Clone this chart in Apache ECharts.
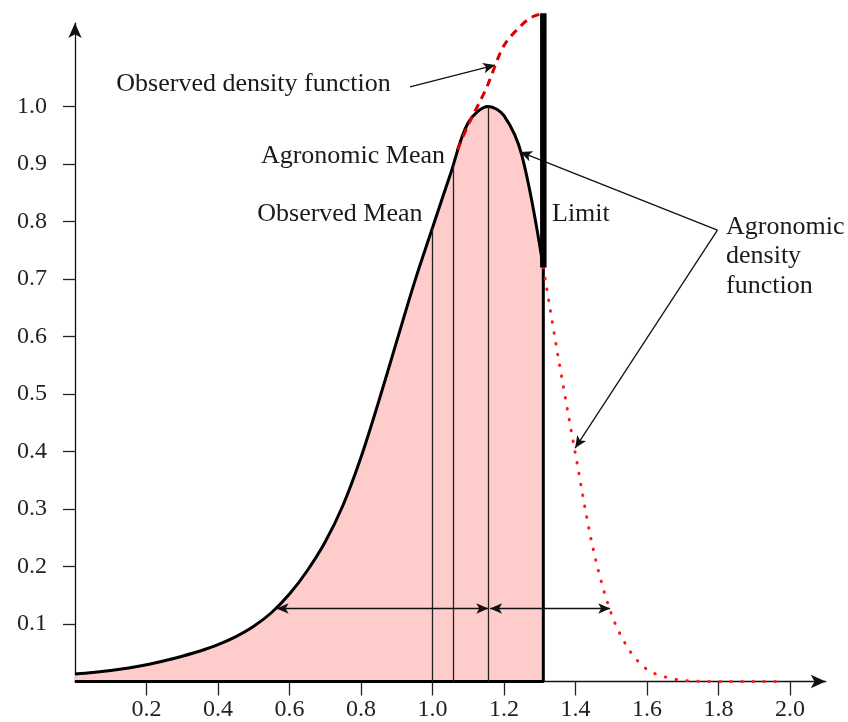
<!DOCTYPE html>
<html>
<head>
<meta charset="utf-8">
<script src="https://cdn.jsdelivr.net/npm/echarts@6/dist/echarts.min.js"></script>
<style>
html,body{margin:0;padding:0;background:#fff;}
#c{width:848px;height:722px;}
</style>
</head>
<body>
<div id="c"></div>
<script>
// ---- data ----
const agroX = [0, 0.05, 0.1, 0.15, 0.2, 0.25, 0.3, 0.35, 0.4, 0.45, 0.5, 0.55, 0.6, 0.65, 0.7, 0.75, 0.8, 0.85, 0.9, 0.95, 1.0, 1.05, 1.1, 1.156, 1.2, 1.25, 1.31];
const agroY = [0.013, 0.0155, 0.019, 0.0235, 0.029, 0.036, 0.044, 0.053, 0.064, 0.078, 0.096, 0.120, 0.152, 0.193, 0.243, 0.307, 0.39, 0.488, 0.592, 0.695, 0.789, 0.882, 0.972, 1.0, 0.984, 0.915, 0.72];
const tailX = [1.31, 1.35, 1.40, 1.45, 1.50, 1.55, 1.60, 1.65, 1.70, 1.80, 1.90, 1.97];
const tailY = [0.72, 0.57, 0.395, 0.229, 0.118, 0.055, 0.021, 0.008, 0.002, 0, 0, 0];
const obsX = [1.07, 1.10, 1.15, 1.20, 1.25, 1.28, 1.31];
const obsY = [0.925, 0.968, 1.031, 1.106, 1.142, 1.156, 1.162];
const limitX = 1.31;
const limitLow = 0.72;
const limitHigh = 1.162;
const meanX = [1.0, 1.058, 1.156];
const meanTop = [0.789, 0.898, 1.0];
const spreadY = 0.127;
const spreadA = [0.564, 1.156];
const spreadB = [1.161, 1.497];
const xTicks = [0.2, 0.4, 0.6, 0.8, 1.0, 1.2, 1.4, 1.6, 1.8, 2.0];
const yTicks = [0.1, 0.2, 0.3, 0.4, 0.5, 0.6, 0.7, 0.8, 0.9, 1.0];

const FONT = 'Liberation Serif';
const zip = (a, b) => a.map((v, i) => [v, b[i]]);

const chart = echarts.init(document.getElementById('c'), null, {renderer: 'canvas'});

const option = {
  backgroundColor: '#ffffff',
  animation: false,
  grid: {left: 75, right: 22.25, top: 23.1, bottom: 40.5, containLabel: false},
  xAxis: {
    type: 'value', min: 0, max: 2.1,
    axisLine: {show: true, onZero: false, symbol: ['none', 'arrow'], symbolSize: [10, 15],
      lineStyle: {color: '#111', width: 1.3}},
    axisTick: {show: true, customValues: xTicks, length: 14, lineStyle: {color: '#222', width: 1.3}},
    axisLabel: {show: true, customValues: xTicks, formatter: v => Number(v).toFixed(1),
      fontFamily: FONT, fontSize: 24, color: '#222', margin: 16},
    splitLine: {show: false}
  },
  yAxis: {
    type: 'value', min: 0, max: 1.145,
    axisLine: {show: true, onZero: false, symbol: ['none', 'arrow'], symbolSize: [10, 15],
      lineStyle: {color: '#111', width: 1.3}},
    axisTick: {show: true, customValues: yTicks, length: 12, lineStyle: {color: '#222', width: 1.3}},
    axisLabel: {show: true, customValues: yTicks, formatter: v => Number(v).toFixed(1),
      fontFamily: FONT, fontSize: 24, color: '#222', margin: 28},
    splitLine: {show: false}
  },
  series: [
    {
      name: 'agronomic', type: 'line', data: zip(agroX, agroY), smooth: 0.33,
      showSymbol: false, silent: true, z: 2,
      lineStyle: {color: '#000', width: 3},
      areaStyle: {color: '#ffcccc', opacity: 1}
    },
    {
      name: 'means', type: 'line', data: [], silent: true, z: 3,
      markLine: {
        silent: true, symbol: ['none', 'none'], label: {show: false},
        lineStyle: {color: '#222', width: 1.3, type: 'solid'},
        data: meanX.map((x, i) => [{coord: [x, 0]}, {coord: [x, meanTop[i]]}])
      }
    },
    {
      name: 'outline', type: 'line', data: [[0, 0], [limitX, 0], [limitX, limitLow]], smooth: false,
      showSymbol: false, silent: true, z: 4,
      lineStyle: {color: '#000', width: 3}
    },
    {
      name: 'tail', type: 'line', data: zip(tailX, tailY), smooth: 0.33,
      showSymbol: false, silent: true, z: 4,
      lineStyle: {color: '#ff1a1a', width: 3, type: [0.5, 10.5], cap: 'round'}
    },
    {
      name: 'observed', type: 'line', data: zip(obsX, obsY), smooth: 0.33, clip: false,
      showSymbol: false, silent: true, z: 5,
      lineStyle: {color: '#d80000', width: 3, type: [8, 6]}
    },
    {
      name: 'limit', type: 'line', data: [[limitX, limitLow], [limitX, limitHigh]], clip: false,
      showSymbol: false, silent: true, z: 6,
      lineStyle: {color: '#000', width: 6.5}
    },
    {
      name: 'arrows', type: 'line', data: [], silent: true, z: 7,
      markLine: {
        silent: true, label: {show: false}, symbolSize: [8, 12],
        lineStyle: {color: '#111', width: 1.3, type: 'solid'},
        data: [
          [{coord: [spreadA[0], spreadY], symbol: 'arrow'}, {coord: [spreadA[1], spreadY], symbol: 'arrow'}],
          [{coord: [spreadB[0], spreadY], symbol: 'arrow'}, {coord: [spreadB[1], spreadY], symbol: 'arrow'}],
          [{coord: [0.937, 1.034], symbol: 'none'}, {coord: [1.175, 1.072], symbol: 'arrow'}],
          [{coord: [1.797, 0.785], symbol: 'none'}, {coord: [1.245, 0.921], symbol: 'arrow'}],
          [{coord: [1.797, 0.785], symbol: 'none'}, {coord: [1.399, 0.406], symbol: 'arrow'}]
        ]
      }
    }
  ]
};
chart.setOption(option);

// annotation anchors in data units
const notes = [
  {text: 'Observed density function', at: [0.4993, 1.039], align: 'center'},
  {text: 'Agronomic Mean', at: [0.7776, 0.9139], align: 'center'},
  {text: 'Observed Mean', at: [0.741, 0.813], align: 'center'},
  {text: 'Limit', at: [1.3343, 0.813], align: 'left'},
  {text: 'Agronomic', at: [1.821, 0.790], align: 'left'},
  {text: 'density', at: [1.821, 0.739], align: 'left'},
  {text: 'function', at: [1.821, 0.688], align: 'left'}
];
const graphic = notes.map(n => {
  const p = chart.convertToPixel({gridIndex: 0}, n.at);
  return {
    type: 'text', x: p[0], y: p[1], silent: true, z: 100,
    style: {text: n.text, fill: '#1a1a1a', font: '26px "' + FONT + '"', textAlign: n.align, textVerticalAlign: 'middle'}
  };
});
chart.setOption({graphic: graphic});
</script>
</body>
</html>
